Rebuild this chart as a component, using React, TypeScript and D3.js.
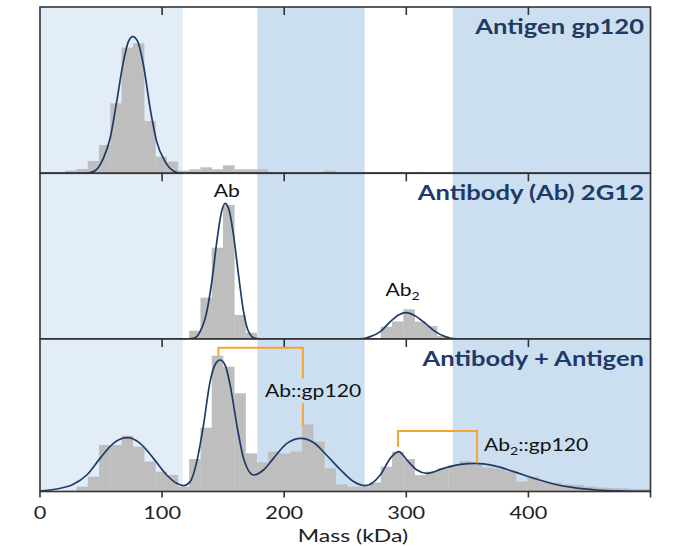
import * as d3 from 'd3'

// Histogram bins (kDa)
const binStart = 2.2
const binWidth = 9.23

const antigenCounts = [
  0, 0, 1.6, 2.6, 7.4, 17, 42, 75.4, 78, 31.4,
  10, 7, 1.6, 2.4, 3.6, 2.4, 4.8, 2.4, 2.4, 2.4,
  0.6, 0.6, 0.6, 0.6, 0.6, 1.6, 0, 0, 0, 0,
  0, 0, 0, 0.8, 0, 0, 0.8, 0, 0, 0,
  0, 0, 0.8, 0, 0, 0, 0, 0, 0, 0,
  0, 0, 0, 0,
]
const antibodyCounts = [
  0, 0, 0, 0, 0, 0, 0, 0, 0, 0,
  0, 0, 0, 5, 24.8, 54.8, 80.4, 14.4, 3.8, 0,
  0, 0, 0, 0, 0, 0, 0, 0, 0, 0.6,
  7.4, 10.5, 17.8, 10.4, 7.8, 1.8, 0, 0, 0, 0,
  0, 0, 0, 0, 0, 0, 0, 0, 0, 0,
  0, 0, 0, 0,
]
const complexCounts = [
  0, 0, 0.6, 2.9, 8.9, 27.9, 27.9, 33.5, 26.9, 17.9,
  11.9, 9.9, 3, 19.5, 38.3, 81.5, 74.9, 58.9, 22.9, 17.5,
  23.9, 22.8, 23.9, 40.3, 29.9, 13.9, 4.3, 2.9, 2.9, 5.4,
  14.9, 23.9, 19.5, 9.9, 11.9, 13.8, 15.9, 18.3, 16.8, 14.4,
  13.8, 12, 6, 9, 6, 5.4, 4.2, 3.9, 3, 2.4,
  2.1, 1.9, 1.5, 1.5,
]

// Fitted curves [mass kDa, count]
const antigenFit = [
  [0, 0], [36, 0], [43.7, 1], [51.9, 9], [57.4, 21], [62.8, 43], [68.3, 67], [72.4, 79],
  [76, 82], [79.8, 79.4], [84.7, 65], [90.2, 39], [95.6, 19], [102.5, 7], [109.3, 1.4],
  [116, 0], [500, 0],
]
const antibodyFit = [
  [0, 0], [118, 0], [125.7, 0.4], [131.1, 4.4], [136.6, 16.4], [140.7, 34.4], [144.8, 58.4],
  [148.4, 75.4], [151.6, 81.4], [155.2, 76.4], [158.5, 62.4], [162.6, 38.4], [166.7, 16.4],
  [170.8, 4.4], [176.2, 0.4], [184, 0], [258, 0], [265, 0.3], [270.5, 1.4], [278.7, 4.4],
  [286.9, 10.4], [293.7, 14.4], [300, 15.8], [307.4, 13.8], [315.6, 9.4], [323.8, 4.4],
  [332, 1.4], [338, 0.2], [345, 0], [500, 0],
]
const complexFit = [
  [0, 0.3], [13.7, 1.5], [27.3, 4.3], [38.3, 9.9], [49.2, 19.9], [60.1, 28.9], [71.6, 32.3],
  [82, 28.9], [92.9, 19.9], [103.8, 9.9], [112, 4.9], [117.5, 3.5], [123, 5.9], [128.4, 17.9],
  [133.9, 39.9], [139.3, 65.9], [144, 76.9], [147.5, 78.9], [151.6, 75.9], [155.7, 63.9],
  [161.2, 39.9], [166.7, 19.9], [174.9, 9.9], [183, 12.9], [191.2, 19.9], [202.2, 28.9],
  [213.7, 31.9], [224, 29.4], [235, 21.6], [245.9, 13.2], [256.8, 6], [266.4, 3.5],
  [278.7, 9.9], [286.9, 19.9], [293.7, 23.9], [300.5, 18.9], [308.7, 12.9], [316.9, 10.9],
  [330.6, 13.9], [344.3, 16.3], [356.6, 16.9], [371.6, 15.5], [388, 11.9], [404.4, 7.9],
  [420.7, 4.5], [437.2, 2.3], [456.3, 0.9], [478, 0.3], [500, 0.1],
]

const panelTitles = ['Antigen gp120', 'Antibody (Ab) 2G12', 'Antibody + Antigen']

// shaded mass windows (kDa)
const bandEdges = [0, 117, 178, 266, 338, 500]
const bandColors = ['#e3edf8', '#ffffff', '#cbdff1', '#ffffff', '#cbdff1']

const massTicks = [0, 100, 200, 300, 400, 500]
const massTickLabels = ['0', '100', '200', '300', '400', '']

const NAVY = '#1f3a66'
const ORANGE = '#f5a236'
const FRAME = '#333'
const STRETCH = 1.28
const FONT = "Lato, 'DejaVu Sans', sans-serif"

function SText({ x, y, children, ...rest }: any) {
  return (
    <text transform={`translate(${x},${y}) scale(${STRETCH},1)`} fontFamily={FONT} {...rest}>
      {children}
    </text>
  )
}

export default function App() {
  const W = 678
  const H = 546
  const x = d3.scaleLinear().domain([0, 500]).range([40, 650.5])
  const pxPerCount = 1 / 0.6

  const layout = [
    { top: 7, bottom: 173.3 },
    { top: 173.3, bottom: 339 },
    { top: 339, bottom: 491.5 },
  ]
  const countsList = [antigenCounts, antibodyCounts, complexCounts]
  const fitList = [antigenFit, antibodyFit, complexFit]

  const panels = layout.map((l, i) => {
    const y = d3
      .scaleLinear()
      .domain([0, (l.bottom - l.top) / pxPerCount])
      .range([l.bottom, l.top])
    return { ...l, y, counts: countsList[i], fit: fitList[i], title: panelTitles[i] }
  })

  return (
    <svg
      width={W}
      height={H}
      style={{ position: 'absolute', left: 0, top: 0, background: '#fff' }}
    >
      <defs>
        {panels.map((p, i) => (
          <clipPath id={`clip${i}`} key={i}>
            <rect x={x(0)} y={p.top} width={x(500) - x(0)} height={p.bottom - p.top} />
          </clipPath>
        ))}
      </defs>

      {panels.map((p, i) => {
        const line = d3
          .line<number[]>()
          .x((d) => x(d[0]))
          .y((d) => p.y(d[1]))
          .curve(d3.curveMonotoneX)
        return (
          <g key={i}>
            <g clipPath={`url(#clip${i})`}>
              {bandColors.map((c, b) => (
                <rect
                  key={b}
                  x={x(bandEdges[b])}
                  y={p.top}
                  width={x(bandEdges[b + 1]) - x(bandEdges[b])}
                  height={p.bottom - p.top}
                  fill={c}
                />
              ))}
              {p.counts.map((c, k) =>
                c > 0 ? (
                  <rect
                    key={k}
                    x={x(binStart + k * binWidth)}
                    y={p.y(c)}
                    width={x(binStart + (k + 1) * binWidth) - x(binStart + k * binWidth) + 0.3}
                    height={p.y(0) - p.y(c)}
                    fill="#bebebe"
                  />
                ) : null
              )}
              <path d={line(p.fit) || ''} fill="none" stroke={NAVY} strokeWidth={1.7} />
            </g>
            <rect
              x={x(0)}
              y={p.top}
              width={x(500) - x(0)}
              height={p.bottom - p.top}
              fill="none"
              stroke={FRAME}
              strokeWidth={1.6}
            />
            {massTicks.slice(1, -1).map((t) => (
              <line
                key={t}
                x1={x(t)}
                x2={x(t)}
                y1={p.top}
                y2={p.top + 8}
                stroke={FRAME}
                strokeWidth={1.6}
              />
            ))}
            <SText
              x={644}
              y={p.top + 27}
              textAnchor="end"
              fontSize={20}
              fontWeight={700}
              fill={NAVY}
            >
              {p.title}
            </SText>
          </g>
        )
      })}

      {/* bottom axis */}
      {massTicks.map((t, i) => (
        <g key={t}>
          <line
            x1={x(t)}
            x2={x(t)}
            y1={491.5}
            y2={497.5}
            stroke={FRAME}
            strokeWidth={1.6}
          />
          <SText x={x(t)} y={519} textAnchor="middle" fontSize={17} fill="#222">
            {massTickLabels[i]}
          </SText>
        </g>
      ))}
      <SText x={353} y={541.5} textAnchor="middle" fontSize={18} fill="#222">
        Mass (kDa)
      </SText>

      {/* peak labels */}
      <SText x={x(153)} y={196.5} textAnchor="middle" fontSize={16.5} fill="#111">
        Ab
      </SText>
      <SText x={x(297)} y={296} textAnchor="middle" fontSize={16.5} fill="#111">
        Ab<tspan fontSize={11} dy={4}>2</tspan>
      </SText>

      {/* Ab::gp120 bracket */}
      <path
        d={`M${x(146.1)},356.7 V347.7 H${x(215.3)} V378.3 M${x(215.3)},403.3 V425.7`}
        fill="none"
        stroke={ORANGE}
        strokeWidth={2}
      />
      <SText x={265} y={397.3} fontSize={16.5} fill="#111">
        Ab::gp120
      </SText>

      {/* Ab2::gp120 bracket */}
      <path
        d={`M${x(293.2)},446.7 V431 H${x(358)} V463.3`}
        fill="none"
        stroke={ORANGE}
        strokeWidth={2}
      />
      <SText x={484} y={450.7} fontSize={16.5} fill="#111">
        Ab<tspan fontSize={11} dy={4}>2</tspan>
        <tspan dy={-4}>::gp120</tspan>
      </SText>
    </svg>
  )
}
